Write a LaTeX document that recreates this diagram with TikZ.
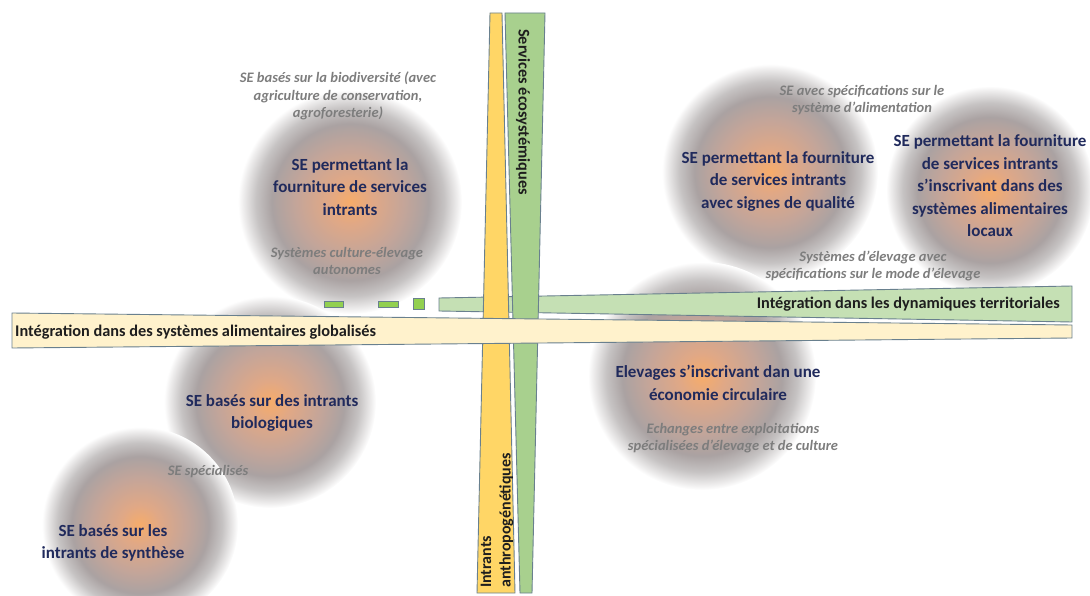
\documentclass[tikz,border=0pt]{standalone}
\usepackage{fontspec}
\setmainfont{Carlito}[BoldFont=*-Bold, ItalicFont=*-Italic, BoldItalicFont=*-BoldItalic]
\definecolor{blobA}{RGB}{246,172,106}
\definecolor{blobB}{RGB}{224,168,134}
\definecolor{blobC}{RGB}{196,165,153}
\definecolor{blobD}{RGB}{170,162,162}
\definecolor{blobE}{RGB}{198,195,195}
\definecolor{blobF}{RGB}{240,239,239}
\definecolor{barline}{RGB}{105,128,142}
\definecolor{goldbar}{RGB}{255,214,102}
\definecolor{greenbar}{RGB}{168,208,142}
\definecolor{lightyellow}{RGB}{255,242,204}
\definecolor{lightgreen}{RGB}{197,224,180}
\definecolor{dashgreen}{RGB}{146,208,80}
\definecolor{navy}{RGB}{32,42,92}
\definecolor{grayit}{RGB}{125,125,125}
\definecolor{bartext}{RGB}{30,30,30}
\pgfdeclareradialshading{blob}{\pgfpoint{0bp}{0bp}}{%
color(0bp)=(blobA); color(5bp)=(blobB); color(12bp)=(blobC); color(17.5bp)=(blobD); color(21bp)=(blobE); color(24bp)=(blobF); color(25bp)=(white); color(50bp)=(white)}
\tikzset{
  main/.style={font=\bfseries\fontsize{17}{22.5}\selectfont, text=navy, align=center, inner sep=0pt},
  sub/.style={font=\bfseries\itshape\fontsize{14.5}{17.5}\selectfont, text=grayit, align=center, inner sep=0pt},
  bartxt/.style={font=\bfseries\fontsize{16.3}{19}\selectfont, text=bartext, inner sep=0pt},
  bar/.style={draw=barline, line width=0.9pt, line join=miter},
  blobshade/.style={shading=blob}
}
\begin{document}
\begin{tikzpicture}[x=1pt,y=-1pt]
\useasboundingbox (0,0) rectangle (1090,596);
% blobs
\shade[blobshade] (350,202) circle (112);
\shade[blobshade] (770,172) circle (108);
\shade[blobshade] (990,190) circle (104);
\shade[blobshade] (702,376) circle (114);
\shade[blobshade] (270,402) circle (106);
\shade[blobshade] (140,525) circle (98);
% green horizontal bar
\draw[bar, fill=lightgreen] (439,298) -- (1072,286) -- (1072,322) -- (439,311) -- cycle;
% dashes
\draw[bar, fill=dashgreen, line width=0.7pt] (324,301) rectangle (343,307);
\draw[bar, fill=dashgreen, line width=0.7pt] (378,301) rectangle (398,307);
\draw[bar, fill=dashgreen, line width=0.7pt] (413,298) rectangle (424,309);
% vertical bars
\draw[bar, fill=goldbar] (490,13) -- (502,13) -- (515,593) -- (477,593) -- cycle;
\draw[bar, fill=greenbar] (505,13) -- (545,13) -- (532,593) -- (520,593) -- cycle;
% yellow horizontal bar
\draw[bar, fill=lightyellow] (12,313) -- (1072,325) -- (1072,338) -- (12,348) -- cycle;
% bar texts
\node[bartxt, anchor=east] (tterr) at (1060,304) {Intégration dans les dynamiques territoriales};
\node[bartxt, anchor=west] (tglob) at (15,332) {Intégration dans des systèmes alimentaires globalisés};
\node[bartxt, rotate=-90] (tserv) at (523,112) {Services écosystémiques};
\node[bartxt, rotate=90, anchor=west, align=left, font=\bfseries\fontsize{16}{19.5}\selectfont] (tintr) at (497,588) {Intrants\\anthropogénétiques};
% texts
\node[sub] (t1) at (338,96) {SE basés sur la biodiversité (avec\\agriculture de conservation,\\agroforesterie)};
\node[main] (t2) at (350,187) {SE permettant la\\fourniture de services\\intrants};
\node[sub] (t3) at (347,261) {Systèmes culture-élevage\\autonomes};
\node[sub] (t4) at (862,100) {SE avec spécifications sur le\\système d’alimentation};
\node[main] (t5) at (778,181) {SE permettant la fourniture\\de services intrants\\avec signes de qualité};
\node[main] (t6) at (990,186) {SE permettant la fourniture\\de services intrants\\s’inscrivant dans des\\systèmes alimentaires\\locaux};
\node[sub] (t7) at (873,266) {Systèmes d’élevage avec\\spécifications sur le mode d’élevage};
\node[main] (t10) at (718,383) {Elevages s’inscrivant dan une\\économie circulaire};
\node[sub] (t11) at (733,438) {Echanges entre exploitations\\spécialisées d’élevage et de culture};
\node[main] (t12) at (272,413) {SE basés sur des intrants\\biologiques};
\node[sub] (t13) at (208,472) {SE spécialisés};
\node[main] (t14) at (113,543) {SE basés sur les\\intrants de synthèse};
\end{tikzpicture}
\end{document}
